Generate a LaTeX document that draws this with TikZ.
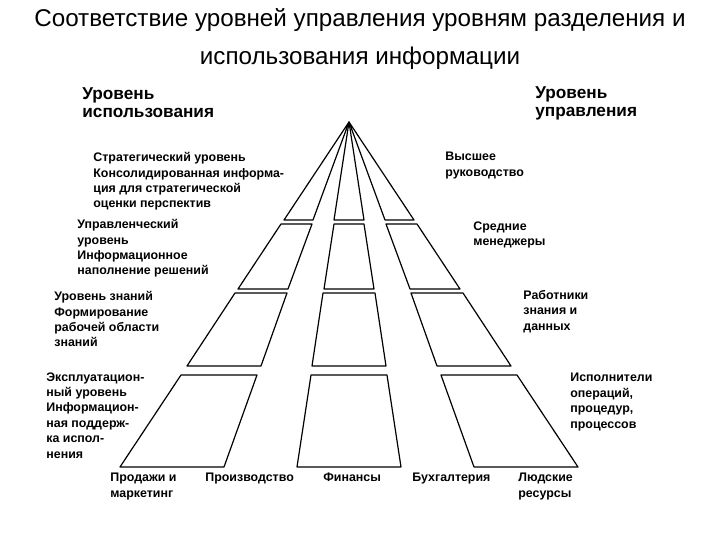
\documentclass[tikz,border=0pt]{standalone}
\usepackage{fontspec}
\setmainfont{Liberation Sans}
\usepackage{tikz}
\usetikzlibrary{positioning}

\begin{document}
\begin{tikzpicture}[
  x=0.5pt, y=-0.5pt,
  ttl/.style={font=\fontsize{12.1}{19}\selectfont, align=center, inner sep=0},
  head/.style={font=\bfseries\fontsize{8.6}{9.2}\selectfont, align=left,
               anchor=north west, inner sep=0},
  lbl/.style={font=\bfseries\fontsize{6.2}{7.7}\selectfont, align=left,
              anchor=north west, inner sep=0},
  cell/.style={draw=black, line width=0.6pt, line join=round},
]
\useasboundingbox[fill=white] (0,0) rectangle (720,540);

\node[ttl] (title) at (360,39) {Соответствие уровней управления уровням разделения и\\
  использования информации};

\coordinate (apex) at (349,122);

% upper tier
\draw[cell] (apex) -- (284,220) -- (313,220) -- cycle;
\draw[cell] (apex) -- (334,220) -- (364,220) -- cycle;
\draw[cell] (apex) -- (385,220) -- (414,220) -- cycle;
% second tier
\draw[cell] (281,224) -- (312,224) -- (288,289) -- (238,289) -- cycle;
\draw[cell] (334,224) -- (364,224) -- (374,289) -- (324,289) -- cycle;
\draw[cell] (386,224) -- (417,224) -- (460,289) -- (410,289) -- cycle;
% third tier
\draw[cell] (235,293) -- (287,293) -- (261,366) -- (187,366) -- cycle;
\draw[cell] (323,293) -- (375,293) -- (386,366) -- (312,366) -- cycle;
\draw[cell] (411,293) -- (463,293) -- (511,366) -- (437,366) -- cycle;
% base tier
\draw[cell] (181,375) -- (257,375) -- (224,467) -- (120,467) -- cycle;
\draw[cell] (311,375) -- (387,375) -- (401,467) -- (297,467) -- cycle;
\draw[cell] (441,375) -- (517,375) -- (578,467) -- (474,467) -- cycle;

% left column
\node[head] (use)   at (82,87)  {Уровень\\использования};
\node[lbl]  (strat) at (93,152) {Стратегический уровень\\Консолидированная информа-\\ция для стратегической\\оценки перспектив};
\node[lbl]  (mgmt)  at (77,219) {Управленческий\\уровень\\Информационное\\наполнение решений};
\node[lbl]  (know)  at (54,291) {Уровень знаний\\Формирование\\рабочей области\\знаний};
\node[lbl]  (oper)  at (46,372) {Эксплуатацион-\\ный уровень\\Информацион-\\ная поддерж-\\ка испол-\\нения};

% right column
\node[head] (ctrl)  at (535,86)  {Уровень\\управления};
\node[lbl]  (top)   at (445,152) {Высшее\\руководство};
\node[lbl]  (mid)   at (473,221) {Средние\\менеджеры};
\node[lbl]  (wrk)   at (523,290) {Работники\\знания и\\данных};
\node[lbl]  (exe)   at (570,373) {Исполнители\\операций,\\процедур,\\процессов};

% functions
\node[lbl] (sales) at (110,473) {Продажи и\\маркетинг};
\node[lbl] (prod)  at (205,473) {Производство};
\node[lbl] (fin)   at (323,473) {Финансы};
\node[lbl] (acc)   at (412,473) {Бухгалтерия};
\node[lbl] (hr)    at (518,473) {Людские\\ресурсы};

\end{tikzpicture}
\end{document}
